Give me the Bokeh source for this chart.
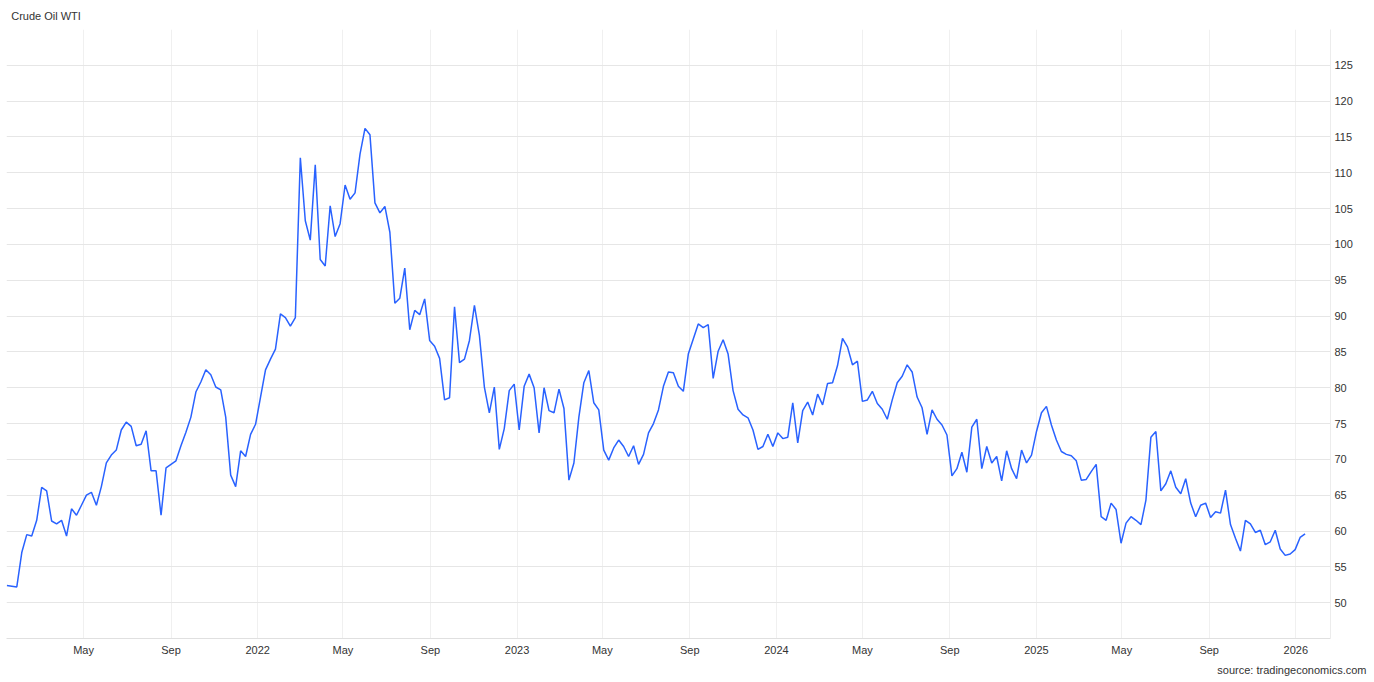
import pandas as pd
from bokeh.plotting import figure
from bokeh.models import ColumnDataSource, FixedTicker, Range1d, Title
from bokeh.embed import file_html
from bokeh.resources import INLINE

# ---- data (weekly closes) ----
start_date = "2021-01-13"
wti_2021 = [52.4, 52.3, 52.2, 57.0, 59.5, 59.3, 61.5, 66.1, 65.6, 61.4,
            61.0, 61.5, 59.3, 63.1, 62.2, 63.6, 65.0, 65.4, 63.6, 66.2,
            69.5, 70.6, 71.3, 74.1, 75.2, 74.6, 71.9, 72.1, 74.0, 68.4,
            68.4, 62.2, 68.8, 69.3, 69.8, 71.9, 73.8, 75.9, 79.4, 80.8,
            82.5, 81.8, 80.1, 79.7, 75.9, 67.8, 66.2, 71.2, 70.4, 73.5,
            74.9]
wti_2022 = [78.7, 82.5, 84.0, 85.4,
            90.3, 89.8, 88.6, 89.8, 112.1, 103.3, 100.6, 111.1, 97.9, 97.0,
            105.4, 101.1, 102.9, 108.3, 106.3, 107.2, 112.6, 116.2, 115.3, 105.8,
            104.4, 105.3, 101.7, 91.8, 92.5, 96.7, 88.1, 90.8, 90.2, 92.4,
            86.6, 85.8, 84.1, 78.3, 78.6, 91.3, 83.5, 84.0, 86.6, 91.5,
            87.3, 80.1, 76.5, 80.1, 71.4, 74.3, 79.6, 80.5]
wti_2023 = [74.1, 80.2, 81.9, 80.0, 73.7, 80.0, 76.8, 76.5, 79.8, 77.1,
            67.1, 69.5, 75.9, 80.7, 82.4, 77.9, 76.9, 71.3, 69.9, 71.6,
            72.7, 71.8, 70.4, 71.9, 69.3, 70.7, 73.7, 75.0, 76.9, 80.2,
            82.2, 82.1, 80.2, 79.5, 84.7, 86.8, 88.9, 88.4, 88.8, 81.3,
            85.1, 86.7, 84.7, 79.6, 77.0, 76.2, 75.8, 74.1, 71.4, 71.8,
            73.5, 71.8, 73.7]
wti_2024 = [72.9, 73.1, 77.9, 72.3, 76.8, 78.0, 76.2, 79.1, 77.6, 80.6,
            80.7, 83.1, 86.9, 85.7, 83.2, 83.7, 78.1, 78.3, 79.5, 77.8,
            77.0, 75.6, 78.3, 80.7, 81.6, 83.2, 82.2, 78.7, 77.2, 73.5,
            76.9, 75.6, 74.8, 73.4, 67.7, 68.7, 71.0, 68.2, 74.5, 75.6,
            68.7, 71.8, 69.5, 70.4, 67.0, 71.2, 68.7, 67.3, 71.3, 69.5,
            70.6, 73.9, 76.5]
wti_2025 = [77.4, 74.8, 72.7, 71.1, 70.7, 70.5, 69.8, 67.1, 67.2, 68.3,
            69.3, 62.0, 61.5, 63.9, 63.0, 58.3, 61.1, 62.0, 61.5, 60.9,
            64.3, 73.1, 73.9, 65.6, 66.6, 68.4, 66.1, 65.2, 67.3, 63.9,
            62.0, 63.6, 63.9, 61.9, 62.7, 62.5, 65.7, 60.9, 59.0, 57.2,
            61.5, 61.0, 59.8, 60.1, 58.1, 58.5, 60.1, 57.5, 56.6, 56.8,
            57.4, 59.1, 59.6]

x_tick_dates = ["2021-05-01", "2021-09-01", "2022-01-01", "2022-05-01", "2022-09-01",
                "2023-01-01", "2023-05-01", "2023-09-01", "2024-01-01", "2024-05-01",
                "2024-09-01", "2025-01-01", "2025-05-01", "2025-09-01", "2026-01-01"]
x_tick_labels = ["May", "Sep", "2022", "May", "Sep", "2023", "May", "Sep", "2024",
                 "May", "Sep", "2025", "May", "Sep", "2026"]
y_ticks = [50, 55, 60, 65, 70, 75, 80, 85, 90, 95, 100, 105, 110, 115, 120, 125]

title_text = "Crude Oil WTI"
source_text = "source: tradingeconomics.com"

# ---- build ----
values = wti_2021 + wti_2022 + wti_2023 + wti_2024 + wti_2025
dates = pd.date_range(start_date, periods=len(values), freq="7D")
src = ColumnDataSource(dict(date=dates, value=values))

FONT = "Liberation Sans"
TXT = "#333333"

x_start = dates[0] - pd.Timedelta(hours=12)
x_end = pd.Timestamp("2026-02-18 18:00")

p = figure(width=1374, height=682, x_axis_type="datetime", y_axis_location="right",
           x_range=Range1d(x_start, x_end), y_range=Range1d(45, 130),
           output_backend="svg", toolbar_location=None,
           min_border_left=6, min_border_top=28, min_border_bottom=43, min_border_right=44)
p.outline_line_color = None
p.background_fill_color = "white"
p.border_fill_color = "white"

p.line("date", "value", source=src, line_color="#2962ff", line_width=1.5)

tick_ms = [int(pd.Timestamp(d).value // 10**6) for d in x_tick_dates]
p.xaxis.ticker = FixedTicker(ticks=tick_ms)
p.xaxis.major_label_overrides = {t: lab for t, lab in zip(tick_ms, x_tick_labels)}
p.xaxis.axis_line_color = "#e0e0e0"
p.xaxis.major_tick_line_color = None
p.xaxis.minor_tick_line_color = None
p.xaxis.major_tick_out = 0
p.xaxis.major_tick_in = 0
p.xaxis.major_label_standoff = 5
p.xaxis.major_label_text_font = FONT
p.xaxis.major_label_text_font_size = "11px"
p.xaxis.major_label_text_color = TXT

p.yaxis.ticker = FixedTicker(ticks=y_ticks)
p.yaxis.axis_line_color = "#ececec"
p.yaxis.major_tick_line_color = None
p.yaxis.minor_tick_line_color = None
p.yaxis.major_tick_out = 0
p.yaxis.major_tick_in = 0
p.yaxis.major_label_standoff = 4
p.yaxis.major_label_text_font = FONT
p.yaxis.major_label_text_font_size = "11px"
p.yaxis.major_label_text_color = TXT

p.xgrid.ticker = FixedTicker(ticks=tick_ms)
p.xgrid.grid_line_color = "#f0f0f0"
p.ygrid.ticker = FixedTicker(ticks=y_ticks + [130])
p.ygrid.grid_line_color = "#e6e6e6"

p.title = Title(text=title_text, align="left", offset=4.7, standoff=15,
                text_font=FONT, text_font_size="11px", text_font_style="normal",
                text_color=TXT)
p.add_layout(Title(text=source_text, align="right", offset=-36, standoff=10,
                   vertical_align="top", text_font=FONT, text_font_size="11px",
                   text_font_style="normal", text_color=TXT), "below")

open("out.html", "w").write(file_html(p, INLINE))
